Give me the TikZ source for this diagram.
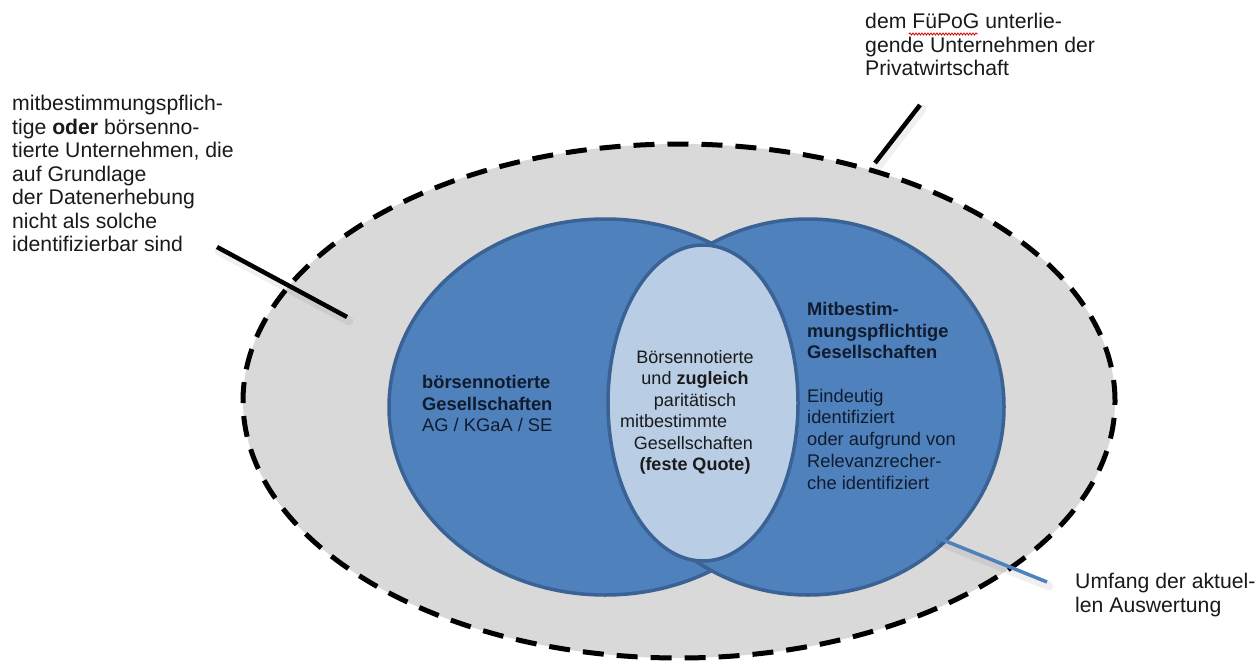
\documentclass[tikz,border=0pt]{standalone}
\usepackage{fontspec}
\setmainfont{Liberation Sans}
\usetikzlibrary{decorations.pathmorphing}
\definecolor{outerfill}{HTML}{D9D9D9}
\definecolor{setblue}{HTML}{4F81BD}
\definecolor{setline}{HTML}{3A6294}
\definecolor{corefill}{HTML}{B9CDE5}
\definecolor{navytext}{HTML}{111B2E}
\definecolor{labeltext}{HTML}{1A1A1A}
\begin{document}
\begin{tikzpicture}[x=1pt,y=-1pt,
  outerset/.style={fill=outerfill, draw=black, line width=5pt, dash pattern=on 21pt off 13pt},
  blueset/.style={fill=setblue, draw=setline, line width=3.5pt},
  coreset/.style={fill=corefill, draw=setline, line width=3.5pt},
  outerlabel/.style={font=\fontsize{21.2}{23.5}\selectfont, align=left, inner sep=0pt, text=labeltext},
  innerlabel/.style={font=\fontsize{18.3}{21.7}\selectfont, align=left, inner sep=0pt, text=navytext},
  corelabel/.style={font=\fontsize{18}{21.5}\selectfont, align=center, inner sep=0pt, text=labeltext},
  pointer/.style={draw=black, line width=4.5pt},
  pointershadow/.style={draw=black, opacity=0.06, line width=9pt, line cap=round},
  bluepointer/.style={draw=setblue, line width=3.5pt}]
\useasboundingbox (0,0) rectangle (1257,661);
\fill[white] (0,0) rectangle (1257,661);

% outer set: all companies under the FuePoG
\draw[outerset] (679,401) ellipse [x radius=436pt, y radius=257pt];

% the two company sets and their intersection
\draw[blueset] (605,407) ellipse [x radius=216pt, y radius=188pt];
\draw[blueset] (808,407) ellipse [x radius=196pt, y radius=188pt];
\draw[coreset] (703,403) ellipse [x radius=95pt, y radius=158pt];

% labels inside the sets
\node[innerlabel, anchor=north west] (listed) at (422,375)
  {\textbf{börsennotierte}\\\textbf{Gesellschaften}\\AG / KGaA / SE};
\node[corelabel, anchor=north] (core) at (695,350)
  {Börsennotierte\\und \textbf{zugleich}\\paritätisch\\\makebox[150pt][l]{mitbestimmte}\\\makebox[116pt][r]{Gesellschaften}\\\textbf{(feste Quote)}};
\node[innerlabel, anchor=north west] (codet) at (807,302)
  {\textbf{Mitbestim-}\\\textbf{mungspflichtige}\\\textbf{Gesellschaften}\\[21.7pt]Eindeutig\\identifiziert\\oder aufgrund von\\Relevanzrecher-\\che identifiziert};

% outside labels
\node[outerlabel, anchor=north west] (unknown) at (12,95)
  {mitbestimmungspflich-\\tige \textbf{oder} börsenno-\\tierte Unternehmen, die\\auf Grundlage\\der Datenerhebung\\nicht als solche\\identifizierbar sind};
\node[outerlabel, anchor=north west] (fuepog) at (865,13)
  {dem FüPoG unterlie-\\gende Unternehmen der\\Privatwirtschaft};
\node[outerlabel, anchor=north west] (scope) at (1075,573)
  {Umfang der aktuel-\\len Auswertung};

% spell-check squiggle under the law's abbreviation
\coordinate (sq1) at (909,34);
\coordinate (sq2) at (978,34);
\draw[red!80!black, line width=0.8pt, decorate, decoration={snake, amplitude=1pt, segment length=3pt}] (sq1) -- (sq2);

% pointer lines
\coordinate (pl1) at (217,247);
\coordinate (pl2) at (347,317);
\coordinate (pt1) at (920,105);
\coordinate (pt2) at (875,163);
\coordinate (pb1) at (938,538);
\coordinate (pb2) at (1047,582);
\draw[pointershadow, transform canvas={shift={(2pt,-4pt)}}] (pl1) -- (pl2);
\draw[pointershadow, transform canvas={shift={(2pt,-4pt)}}] (pt1) -- (pt2);
\draw[pointershadow, transform canvas={shift={(2pt,-4pt)}}] (pb1) -- (pb2);
\draw[pointer] (pl1) -- (pl2);
\draw[pointer] (pt1) -- (pt2);
\draw[bluepointer] (pb1) -- (pb2);
\end{tikzpicture}
\end{document}
